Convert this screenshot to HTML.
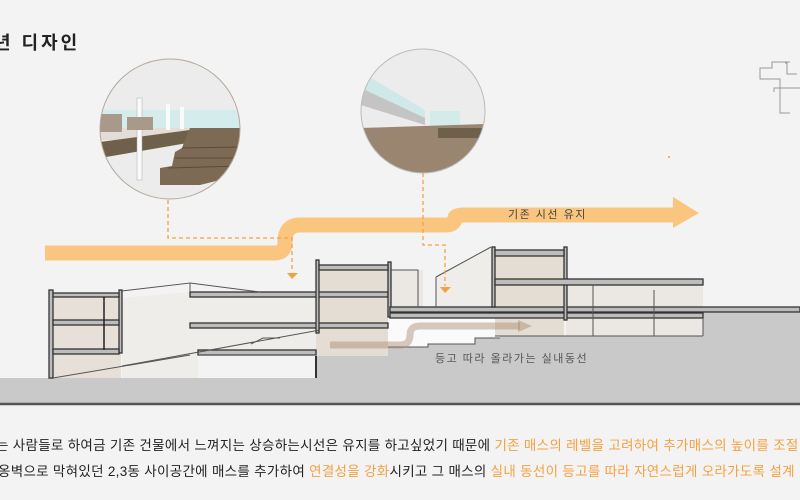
<!DOCTYPE html>
<html><head><meta charset="utf-8"><style>
html,body{margin:0;padding:0;background:#f3f3f3;}
body{width:800px;height:500px;overflow:hidden;position:relative;font-family:"Liberation Sans","Noto Sans CJK KR",sans-serif;}
.t{position:absolute;white-space:nowrap;font-size:13.5px;color:#222;letter-spacing:0.3px;}
.o{color:#f5a142;}
</style></head><body>
<svg width="800" height="500" style="position:absolute;left:0;top:0">
<!-- ground -->
<polygon points="0,378 316,378 316,356 387,356 387,347 428,347 428,344 475,344 475,338 500,338 500,336 703,336 703,307 800,307 800,404 0,404" fill="#c9c9c9"/>
<line x1="0" y1="404" x2="800" y2="404" stroke="#555" stroke-width="2.5"/>
<!-- beige interiors -->
<rect x="53" y="297" width="68" height="81" fill="#e6e0d8"/>
<polygon points="122,298 190,292 318,292 318,356 198,356 198,378 122,378" fill="#efedea"/>
<rect x="316" y="270" width="72" height="86" fill="#e4ddd3"/>
<rect x="388" y="270" width="35" height="40" fill="#ebe8e4"/>
<polygon points="436,277 491,247 491,307 436,307" fill="#efedea"/>
<rect x="495" y="256" width="69" height="80" fill="#e4ddd3"/>
<rect x="566" y="285" width="137" height="51" fill="#ebe8e4"/>
<polygon points="388,318 495,318 495,336 475,338 475,344 428,344 428,347 388,347" fill="#fafafa"/>
<g stroke="#333" fill="#bdbdbd" stroke-width="1.3">
<rect x="49" y="290" width="4" height="88"/>
<rect x="119" y="290" width="3" height="63"/>
<rect x="53" y="293" width="66" height="4"/>
<rect x="53" y="320" width="66" height="5"/>
<rect x="53" y="349" width="66" height="5"/>
<rect x="190" y="292" width="198" height="5"/>
<rect x="190" y="323" width="198" height="5"/>
<rect x="198" y="350" width="118" height="5"/>
<rect x="316" y="260" width="3" height="73"/>
<rect x="388" y="262" width="3" height="55"/>
<rect x="319" y="265" width="69" height="5"/>
<rect x="390" y="307" width="410" height="5" fill="#bbb"/>
<rect x="390" y="313" width="313" height="5"/>
<rect x="492" y="247" width="3" height="60"/>
<rect x="564" y="247" width="3" height="73"/>
<rect x="495" y="250" width="69" height="6"/>
<rect x="495" y="279" width="208" height="6"/>
</g>
<g stroke="#555" fill="none" stroke-width="1">
<line x1="104" y1="297" x2="104" y2="350" stroke="#222" stroke-width="1.5"/>
<polyline points="122,291 190,283 190,292"/>
<line x1="190" y1="283" x2="260" y2="292"/>
<line x1="53" y1="378" x2="190" y2="355"/>
<line x1="122" y1="366" x2="320" y2="330"/>
<line x1="436" y1="277" x2="491" y2="247"/>
<line x1="436" y1="277" x2="436" y2="307"/>
<line x1="703" y1="318" x2="703" y2="336"/>
<line x1="495" y1="336" x2="703" y2="336"/>
<line x1="316" y1="356" x2="316" y2="378" stroke="#333" stroke-width="2"/>
<line x1="198" y1="355" x2="316" y2="355"/>
<polyline points="251,344 263,338 280,338"/>
<line x1="593" y1="285" x2="593" y2="336"/>
<line x1="654" y1="290" x2="654" y2="336"/>
<polyline points="390,270 418,270 418,307"/>
<polyline points="388,347 428,347 428,344 475,344 475,338 500,338"/>
</g>
<path d="M330,345 L400,345 Q410,345 410,335 Q410,326 420,326 L520,326" stroke="#a8896a" stroke-opacity="0.45" stroke-width="7" fill="none"/>
<polygon points="518,320 532,326 518,332" fill="#a8896a" fill-opacity="0.45"/>
<path d="M45,253 L275,253 Q285,253 285,242 Q285,225 300,225 L445,225 Q455,225 455,218 Q455,215 465,215 L675,215" stroke="#fac57e" stroke-width="15" fill="none"/>
<polygon points="673,197 699,213 673,228" fill="#fac57e"/>
<g stroke="#f5a142" stroke-width="1.3" stroke-dasharray="4,3" fill="none">
<polyline points="168,200 168,238 292,238 292,272"/>
<polyline points="423,173 423,245 445,245 445,286"/>
</g>
<polygon points="287,273 298,273 292,279" fill="#f5a142"/>
<polygon points="440,287 451,287 445,293" fill="#f5a142"/>
<circle cx="669" cy="157" r="1" fill="#f5a142"/>
<defs><clipPath id="c1"><circle cx="170" cy="129" r="70"/></clipPath><clipPath id="c2"><circle cx="423" cy="111" r="62"/></clipPath></defs>
<g clip-path="url(#c1)">
<rect x="100" y="59" width="140" height="140" fill="#ececec"/>
<rect x="100" y="110" width="140" height="18" fill="#d5ecec"/>
<rect x="100" y="128" width="140" height="12" fill="#e2ddd6"/>
<polygon points="100,142 190,130 240,128 240,134 100,158" fill="#6f604c"/>
<polygon points="190,128 240,128 240,175 200,185 160,185 160,168 172,166 175,152 182,148 185,140" fill="#7c6a55"/>
<g stroke="#5a4c3c" stroke-width="1"><line x1="182" y1="148" x2="240" y2="147"/><line x1="175" y1="158" x2="240" y2="158"/><line x1="168" y1="168" x2="240" y2="166"/></g>
<rect x="137" y="98" width="5" height="82" fill="#fafafa" stroke="#aaa" stroke-width="0.5"/>
<rect x="166" y="104" width="4" height="26" fill="#fafafa"/>
<rect x="180" y="107" width="4" height="22" fill="#fafafa"/>
<rect x="100" y="114" width="22" height="18" fill="#a8998a"/>
<rect x="127" y="117" width="26" height="13" fill="#a8998a"/>
</g>
<circle cx="170" cy="129" r="70" fill="none" stroke="#b5a899" stroke-width="1"/>
<g clip-path="url(#c2)">
<rect x="361" y="49" width="124" height="124" fill="#ececec"/>
<polygon points="361,72 425,110 425,118 361,90" fill="#cfe8e8"/>
<polygon points="361,88 425,118 425,125 361,105" fill="#c4c4c4"/>
<rect x="430" y="111" width="30" height="17" fill="#d3ebe9"/>
<polygon points="361,128 485,124 485,173 361,173" fill="#9a8570"/>
<rect x="438" y="128" width="47" height="10" fill="#6f604c"/>
</g>
<circle cx="423" cy="111" r="62" fill="none" stroke="#bbb" stroke-width="1"/>
<polyline points="790,62 772,62 772,68 760,68 760,79 780,79 780,113 790,113" stroke="#999" fill="none" stroke-width="1"/>
<polyline points="774,92 774,88 800,88" stroke="#999" fill="none"/>
<polyline points="785,63 787,63 787,74 797,74" stroke="#999" fill="none"/>
</svg>
<div class="t" style="left:-6px;top:29px;font-size:18px;font-weight:bold;color:#222;letter-spacing:3px;">년 디자인</div>
<div class="t" style="left:508px;top:206px;font-size:11px;color:#444;letter-spacing:1.5px;">기존 시선 유지</div>
<div class="t" style="left:435px;top:350px;font-size:11px;color:#555;letter-spacing:1.5px;">등고 따라 올라가는 실내동선</div>
<div class="t" style="left:-4px;top:434px;">는 사람들로 하여금 기존 건물에서 느껴지는 상승하는시선은 유지를 하고싶었기 때문에 <span class="o">기존 매스의 레벨을 고려하여 추가매스의 높이를 조절</span></div>
<div class="t" style="left:-2px;top:460px;">옹벽으로 막혀있던 2,3동 사이공간에 매스를 추가하여 <span class="o">연결성을 강화</span>시키고 그 매스의 <span class="o">실내 동선이 등고를 따라 자연스럽게 오라가도록 설계</span></div>
</body></html>
